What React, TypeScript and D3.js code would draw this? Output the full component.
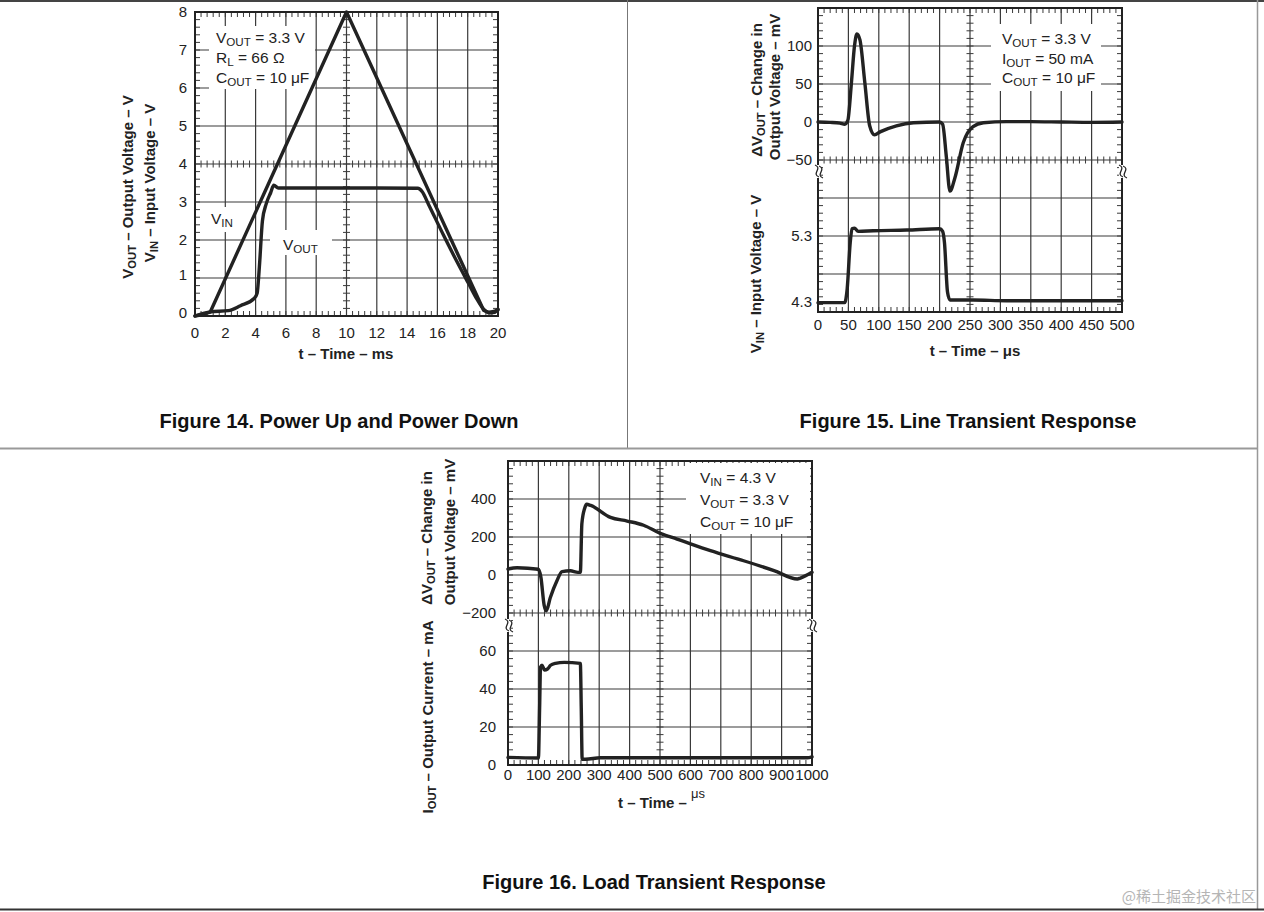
import React from 'react';
import * as d3 from 'd3';

const INK = '#222';
const GRID = '#3a3a3a';
const FONT = '"Liberation Sans", Arial, Helvetica, sans-serif';

type Pt = [number, number];
type Box = { left: number; top: number; width: number; height: number };

// Figure 14 - power up / power down, t in ms, volts
const f14XTicks = [0, 2, 4, 6, 8, 10, 12, 14, 16, 18, 20];
const f14YTicks = [0, 1, 2, 3, 4, 5, 6, 7, 8];
const f14Vin: Pt[] = [
  [0, 0], [0.5, 0.04], [1.0, 0.1], [10, 8], [19.05, 0.15], [19.4, 0.08], [19.8, 0.1], [20, 0.18],
];
const f14Vout: Pt[] = [
  [0, 0], [0.5, 0.06], [1.0, 0.11], [2.2, 0.14], [3.0, 0.27], [3.9, 0.46], [4.1, 0.6], [4.25, 1.3],
  [4.45, 2.5], [4.7, 2.95], [5.0, 3.25], [5.2, 3.44], [5.5, 3.37], [8, 3.37], [12, 3.37], [14.7, 3.36],
  [15.0, 3.27], [15.4, 2.95], [16.4, 2.13], [17.2, 1.5], [18.05, 0.86], [18.6, 0.45], [19.05, 0.18],
  [19.4, 0.1], [19.9, 0.14], [20, 0.16],
];

// Figure 15 - line transient, t in us
const f15XTicks = [0, 50, 100, 150, 200, 250, 300, 350, 400, 450, 500];
const f15DvTicks = [-50, 0, 50, 100];
const f15VinTicks = [4.3, 5.3];
const f15Dv: Pt[] = [
  [0, 0], [20, -0.5], [36, -1.5], [44, -3], [49, 2], [55, 52], [60, 100], [64, 116], [69, 108],
  [77, 52], [85, -5], [93, -17], [102, -13], [129, -5], [157, -1], [200, 0], [205, -3], [211, -45],
  [217, -91], [225, -74], [239, -27], [255, -6], [272, -1], [310, 0.5], [350, 0.5], [400, 0],
  [450, -0.5], [500, 0],
];
const f15Vin: Pt[] = [
  [0, 4.29], [44, 4.29], [48, 4.5], [53, 5.2], [56, 5.41], [60, 5.42], [66, 5.37], [91, 5.38],
  [146, 5.39], [200, 5.41], [205, 5.37], [208, 5.2], [213, 4.45], [217, 4.33], [255, 4.33],
  [310, 4.32], [500, 4.32],
];

// Figure 16 - load transient, t in us
const f16XTicks = [0, 100, 200, 300, 400, 500, 600, 700, 800, 900, 1000];
const f16DvTicks = [-200, 0, 200, 400];
const f16IoutTicks = [0, 20, 40, 60];
const f16Dv: Pt[] = [
  [0, 31], [30, 38], [100, 30], [108, -10], [119, -160], [126, -188], [139, -120], [161, -30],
  [178, 18], [205, 22], [230, 14], [238, 14], [243, 270], [252, 350], [259, 372], [272, 366],
  [337, 303], [392, 284], [446, 262], [501, 219], [556, 189], [666, 128], [775, 75], [875, 23],
  [952, -21], [962, -16], [1000, 14],
];
const f16Iout: Pt[] = [
  [0, 4], [100, 3.7], [104, 30], [107, 51.5], [112, 52.5], [120, 50], [130, 50.5], [140, 52.5],
  [156, 53.5], [185, 54], [238, 53.5], [241, 30], [244, 3], [255, 3], [304, 3.8], [556, 3.8],
  [984, 3.8], [1000, 4.3],
];

function Grid({ box, nx, ny }: { box: Box; nx: number; ny: number }) {
  const gx = d3.scaleLinear().domain([0, nx]).range([box.left, box.left + box.width]);
  const gy = d3.scaleLinear().domain([0, ny]).range([box.top, box.top + box.height]);
  const bottom = box.top + box.height, right = box.left + box.width;
  const cx = gx(nx / 2), cy = gy(ny / 2);
  const mx = d3.range(0, nx * 5 + 1).map(i => gx(i / 5));
  const my = d3.range(0, ny * 5 + 1).map(i => gy(i / 5));
  return (
    <g stroke={GRID}>
      {d3.range(1, nx).map(i => (
        <line key={'v' + i} x1={gx(i)} x2={gx(i)} y1={box.top} y2={bottom} strokeWidth={1.2} />
      ))}
      {d3.range(1, ny).map(i => (
        <line key={'h' + i} x1={box.left} x2={right} y1={gy(i)} y2={gy(i)} strokeWidth={1.2} />
      ))}
      {mx.map((x, i) => (
        <g key={'mx' + i} strokeWidth={1}>
          <line x1={x} x2={x} y1={box.top} y2={box.top + 5} />
          <line x1={x} x2={x} y1={bottom - 5} y2={bottom} />
          <line x1={x} x2={x} y1={cy - 3.5} y2={cy + 3.5} />
        </g>
      ))}
      {my.map((y, i) => (
        <g key={'my' + i} strokeWidth={1}>
          <line x1={box.left} x2={box.left + 5} y1={y} y2={y} />
          <line x1={right - 5} x2={right} y1={y} y2={y} />
          <line x1={cx - 3.5} x2={cx + 3.5} y1={y} y2={y} />
        </g>
      ))}
    </g>
  );
}

function Break({ x, y }: { x: number; y: number }) {
  return (
    <g fill="none" stroke={INK} strokeWidth={1.3}>
      <rect x={x - 3} y={y} width={6} height={13} fill="#fff" stroke="none" />
      <path d={`M${x - 3},${y} C${x + 5},${y + 3} ${x - 7},${y + 9} ${x + 1},${y + 12}`} />
      <path d={`M${x + 1},${y + 1} C${x + 9},${y + 4} ${x - 3},${y + 10} ${x + 5},${y + 13}`} />
    </g>
  );
}

// "V" + subscript "OUT" + rest
function Sub({ b, s, r, size }: { b: string; s: string; r?: string; size: number }) {
  return (
    <>
      <tspan>{b}</tspan>
      <tspan fontSize={size * 0.75} dy={size * 0.22}>{s}</tspan>
      <tspan dy={-size * 0.22}>{r || ''}</tspan>
    </>
  );
}

function YTitle({ x, y, children }: { x: number; y: number; children: React.ReactNode }) {
  return (
    <text transform={`translate(${x + 5},${y}) rotate(-90)`} textAnchor="middle"
      fontSize={15} fontWeight="bold" fill={INK}>
      {children}
    </text>
  );
}

function Trace({ d }: { d: string | null }) {
  return <path d={d || ''} fill="none" stroke={INK} strokeWidth={3.4} strokeLinejoin="round" strokeLinecap="round" />;
}

function Fig14() {
  const box: Box = { left: 195, top: 12, width: 303, height: 304 };
  const x = d3.scaleLinear().domain([0, 20]).range([box.left, box.left + box.width]);
  const y = d3.scaleLinear().domain([0, 8]).range([box.top + box.height, box.top]);
  const ramp = d3.line<Pt>().x(d => x(d[0])).y(d => y(d[1]));
  const line = d3.line<Pt>().x(d => x(d[0])).y(d => y(d[1])).curve(d3.curveMonotoneX);
  return (
    <g>
      <Grid box={box} nx={10} ny={8} />
      <rect x={209} y={26} width={106} height={63} fill="#fff" />
      <g fontSize={15.5} fill={INK}>
        <text x={216} y={43}><Sub b="V" s="OUT" r=" = 3.3 V" size={15.5} /></text>
        <text x={216} y={63}><Sub b="R" s="L" r=" = 66 Ω" size={15.5} /></text>
        <text x={216} y={83}><Sub b="C" s="OUT" r=" = 10 μF" size={15.5} /></text>
      </g>
      <rect x={206} y={207} width={32} height={25} fill="#fff" />
      <rect x={270} y={230} width={62} height={25} fill="#fff" />
      <g fontSize={15.5} fill={INK}>
        <text x={211} y={224}><Sub b="V" s="IN" size={15.5} /></text>
        <text x={283} y={250}><Sub b="V" s="OUT" size={15.5} /></text>
      </g>
      <Trace d={ramp(f14Vin)} />
      <Trace d={line(f14Vout)} />
      <rect x={box.left} y={box.top} width={box.width} height={box.height} fill="none" stroke={INK} strokeWidth={2} />
      <g fontSize={15} fill={INK}>
        {f14YTicks.map(v => (
          <text key={v} x={187} y={y(v) + 5 - (v < 2 ? 3 : 0)} textAnchor="end">{v}</text>
        ))}
        {f14XTicks.map(v => (
          <text key={v} x={x(v)} y={338} textAnchor="middle">{v}</text>
        ))}
      </g>
      <text x={346} y={359} textAnchor="middle" fontSize={15} fontWeight="bold" fill={INK}>t – Time – ms</text>
      <YTitle x={128} y={187}><Sub b="V" s="OUT" r=" – Output Voltage – V" size={15} /></YTitle>
      <YTitle x={150} y={183}><Sub b="V" s="IN" r=" – Input Voltage – V" size={15} /></YTitle>
      <text x={339} y={428} textAnchor="middle" fontSize={20} fontWeight="bold" fill="#111">
        Figure 14. Power Up and Power Down
      </text>
    </g>
  );
}

function Fig15() {
  const box: Box = { left: 818, top: 8, width: 304, height: 304 };
  const x = d3.scaleLinear().domain([0, 500]).range([box.left, box.left + box.width]);
  const yDv = d3.scaleLinear().domain([-50, 150]).range([160, 8]);
  const yVin = d3.scaleLinear().domain([4.3, 5.3]).range([302, 236]);
  const lineDv = d3.line<Pt>().x(d => x(d[0])).y(d => yDv(d[1])).curve(d3.curveMonotoneX);
  const lineVin = d3.line<Pt>().x(d => x(d[0])).y(d => yVin(d[1])).curve(d3.curveMonotoneX);
  return (
    <g>
      <Grid box={box} nx={10} ny={8} />
      <rect x={991} y={24} width={110} height={67} fill="#fff" />
      <g fontSize={15.5} fill={INK}>
        <text x={1002} y={44}><Sub b="V" s="OUT" r=" = 3.3 V" size={15.5} /></text>
        <text x={1002} y={64}><Sub b="I" s="OUT" r=" = 50 mA" size={15.5} /></text>
        <text x={1002} y={83}><Sub b="C" s="OUT" r=" = 10 μF" size={15.5} /></text>
      </g>
      <Trace d={lineDv(f15Dv)} />
      <Trace d={lineVin(f15Vin)} />
      <rect x={box.left} y={box.top} width={box.width} height={box.height} fill="none" stroke={INK} strokeWidth={2} />
      <Break x={box.left} y={165} />
      <Break x={box.left + box.width} y={165} />
      <g fontSize={15} fill={INK}>
        {f15DvTicks.map(v => (
          <text key={v} x={812} y={yDv(v) + 5} textAnchor="end">{v < 0 ? '−' + Math.abs(v) : v}</text>
        ))}
        {f15VinTicks.map(v => (
          <text key={v} x={812} y={yVin(v) + 5} textAnchor="end">{v}</text>
        ))}
        {f15XTicks.map(v => (
          <text key={v} x={x(v)} y={330} textAnchor="middle">{v}</text>
        ))}
      </g>
      <text x={975} y={356} textAnchor="middle" fontSize={15} fontWeight="bold" fill={INK}>t – Time – μs</text>
      <YTitle x={757} y={90}>Δ<Sub b="V" s="OUT" r=" – Change in" size={15} /></YTitle>
      <YTitle x={775} y={87}>Output Voltage – mV</YTitle>
      <YTitle x={756} y={274}><Sub b="V" s="IN" r=" – Input Voltage – V" size={15} /></YTitle>
      <text x={968} y={428} textAnchor="middle" fontSize={20} fontWeight="bold" fill="#111">
        Figure 15. Line Transient Response
      </text>
    </g>
  );
}

function Fig16() {
  const box: Box = { left: 508, top: 461, width: 304, height: 304 };
  const x = d3.scaleLinear().domain([0, 1000]).range([box.left, box.left + box.width]);
  const yDv = d3.scaleLinear().domain([-200, 600]).range([613, 461]);
  const yI = d3.scaleLinear().domain([0, 80]).range([765, 613]);
  const lineDv = d3.line<Pt>().x(d => x(d[0])).y(d => yDv(d[1])).curve(d3.curveMonotoneX);
  const lineI = d3.line<Pt>().x(d => x(d[0])).y(d => yI(d[1])).curve(d3.curveMonotoneX);
  return (
    <g>
      <Grid box={box} nx={10} ny={8} />
      <rect x={686} y={463} width={124} height={71} fill="#fff" />
      <g fontSize={15.5} fill={INK}>
        <text x={700} y={483}><Sub b="V" s="IN" r=" = 4.3 V" size={15.5} /></text>
        <text x={700} y={505}><Sub b="V" s="OUT" r=" = 3.3 V" size={15.5} /></text>
        <text x={700} y={527}><Sub b="C" s="OUT" r=" = 10 μF" size={15.5} /></text>
      </g>
      <Trace d={lineDv(f16Dv)} />
      <Trace d={lineI(f16Iout)} />
      <rect x={box.left} y={box.top} width={box.width} height={box.height} fill="none" stroke={INK} strokeWidth={2} />
      <Break x={box.left} y={619} />
      <Break x={box.left + box.width} y={619} />
      <g fontSize={15} fill={INK}>
        {f16DvTicks.map(v => (
          <text key={v} x={496} y={yDv(v) + 5} textAnchor="end">{v < 0 ? '−' + Math.abs(v) : v}</text>
        ))}
        {f16IoutTicks.map(v => (
          <text key={v} x={496} y={yI(v) + 5} textAnchor="end">{v}</text>
        ))}
        {f16XTicks.map(v => (
          <text key={v} x={x(v)} y={780} textAnchor="middle">{v}</text>
        ))}
      </g>
      <text x={618} y={808} fontSize={15} fontWeight="bold" fill={INK}>
        t – Time – <tspan fontWeight="normal" fontSize={13} dy={-10}>μs</tspan>
      </text>
      <YTitle x={427} y={538}>Δ<Sub b="V" s="OUT" r=" – Change in" size={15} /></YTitle>
      <YTitle x={450} y={532}>Output  Voltage – mV</YTitle>
      <YTitle x={428} y={717}><Sub b="I" s="OUT" r=" – Output  Current – mA" size={15} /></YTitle>
      <text x={654} y={889} textAnchor="middle" fontSize={20} fontWeight="bold" fill="#111">
        Figure 16. Load Transient Response
      </text>
    </g>
  );
}

export default function App() {
  return (
    <div style={{ position: 'absolute', left: 0, top: 0 }}>
      <svg width={1264} height={912} fontFamily={FONT} style={{ display: 'block' }}>
        <rect width={1264} height={912} fill="#fff" />
        <line x1={0} x2={1264} y1={1} y2={1} stroke="#444" strokeWidth={2} />
        <line x1={627.5} x2={627.5} y1={0} y2={448} stroke="#777" strokeWidth={1} />
        <line x1={0} x2={1257} y1={448.5} y2={448.5} stroke="#999" strokeWidth={2} />
        <line x1={1257.5} x2={1257.5} y1={0} y2={909} stroke="#999" strokeWidth={1.5} />
        <line x1={0} x2={1264} y1={909.5} y2={909.5} stroke="#333" strokeWidth={2} />
        <Fig14 />
        <Fig15 />
        <Fig16 />
        <text x={1256} y={902} textAnchor="end" fontSize={15} fill="#b5b5b5"
          fontFamily='"Noto Sans CJK SC", "Noto Sans", sans-serif'>@稀土掘金技术社区</text>
      </svg>
    </div>
  );
}
